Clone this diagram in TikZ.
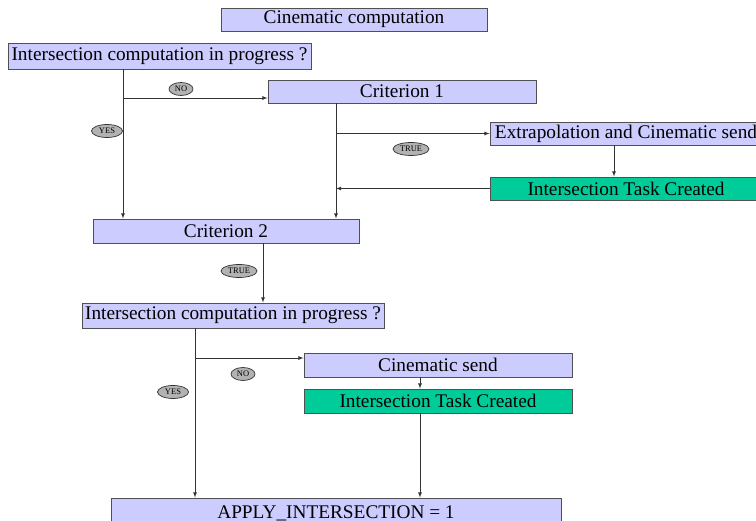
\documentclass[tikz,border=0pt]{standalone}
\usepackage{fontspec}
\setmainfont{Liberation Serif}
\usetikzlibrary{shapes.geometric}
\definecolor{lilac}{HTML}{CCCCFF}
\definecolor{taskgreen}{HTML}{00CC99}
\definecolor{edge}{HTML}{505050}
\tikzset{
    box/.style={draw=edge, fill=lilac, line width=.9bp, inner sep=0pt,
        font=\fontsize{19.3bp}{21bp}\selectfont},
    taskbox/.style={box, fill=taskgreen},
    tag/.style={ellipse, draw=black!80, fill=black!30, line width=.7bp, inner sep=0pt,
        minimum height=13bp, font=\fontsize{8.5bp}{9bp}\selectfont},
    link/.style={->, draw=black!80, line width=.8bp}
}
\begin{document}
\begin{tikzpicture}[>=latex, x=1bp, y=-1bp]
    \useasboundingbox (0,0) rectangle (756,521);
    \clip (0,0) rectangle (756,521);

    \node[box, minimum width=266bp, minimum height=23bp] (comp) at (354,19.5) {Cinematic computation};
    \node[box, minimum width=303bp, minimum height=26bp] (ask1) at (159.5,56) {Intersection computation in progress ?};
    \node[box, minimum width=268bp, minimum height=23bp] (crit1) at (402,91.5) {Criterion 1};
    \node[box, minimum width=272bp, minimum height=23bp] (extra) at (626,133.5) {Extrapolation and Cinematic send};
    \node[taskbox, minimum width=272bp, minimum height=23bp] (task1) at (626,188.5) {Intersection Task Created};
    \node[box, minimum width=266bp, minimum height=24bp] (crit2) at (226,231) {Criterion 2};
    \node[box, minimum width=302bp, minimum height=25bp] (ask2) at (233,315.5) {Intersection computation in progress ?};
    \node[box, minimum width=268bp, minimum height=24bp] (send) at (438,365) {Cinematic send};
    \node[taskbox, minimum width=268bp, minimum height=24bp] (task2) at (438,401) {Intersection Task Created};
    \node[box, minimum width=450bp, minimum height=30bp] (apply) at (336,513) {APPLY\_INTERSECTION = 1};

    % branch points
    \coordinate (fork1) at (123,98);
    \coordinate (fork2) at (336,133.5);
    \coordinate (fork3) at (195,358);

    \draw[link] (fork1 |- ask1.south) -- (fork1 |- crit2.north);
    \draw[link] (fork1) -- (fork1 -| crit1.west);
    \draw[link] (fork2 |- crit1.south) -- (fork2 |- crit2.north);
    \draw[link] (fork2) -- (extra.west);
    \draw[link] (614,0 |- extra.south) -- (614,0 |- task1.north);
    \draw[link] (task1.west) -- (task1.west -| fork2);
    \draw[link] (263,0 |- crit2.south) -- (263,0 |- ask2.north);
    \draw[link] (fork3 |- ask2.south) -- (fork3 |- apply.north);
    \draw[link] (fork3) -- (fork3 -| send.west);
    \draw[link] (420,0 |- send.south) -- (420,0 |- task2.north);
    \draw[link] (420,0 |- task2.south) -- (420,0 |- apply.north);

    \node[tag, minimum width=24bp] (no1) at (181,89) {NO};
    \node[tag, minimum width=31bp] (yes1) at (107,131) {YES};
    \node[tag, minimum width=36bp] (true1) at (411,149) {TRUE};
    \node[tag, minimum width=36bp] (true2) at (239,271) {TRUE};
    \node[tag, minimum width=24bp] (no2) at (243,374) {NO};
    \node[tag, minimum width=31bp] (yes2) at (173,392) {YES};

\end{tikzpicture}
\end{document}
